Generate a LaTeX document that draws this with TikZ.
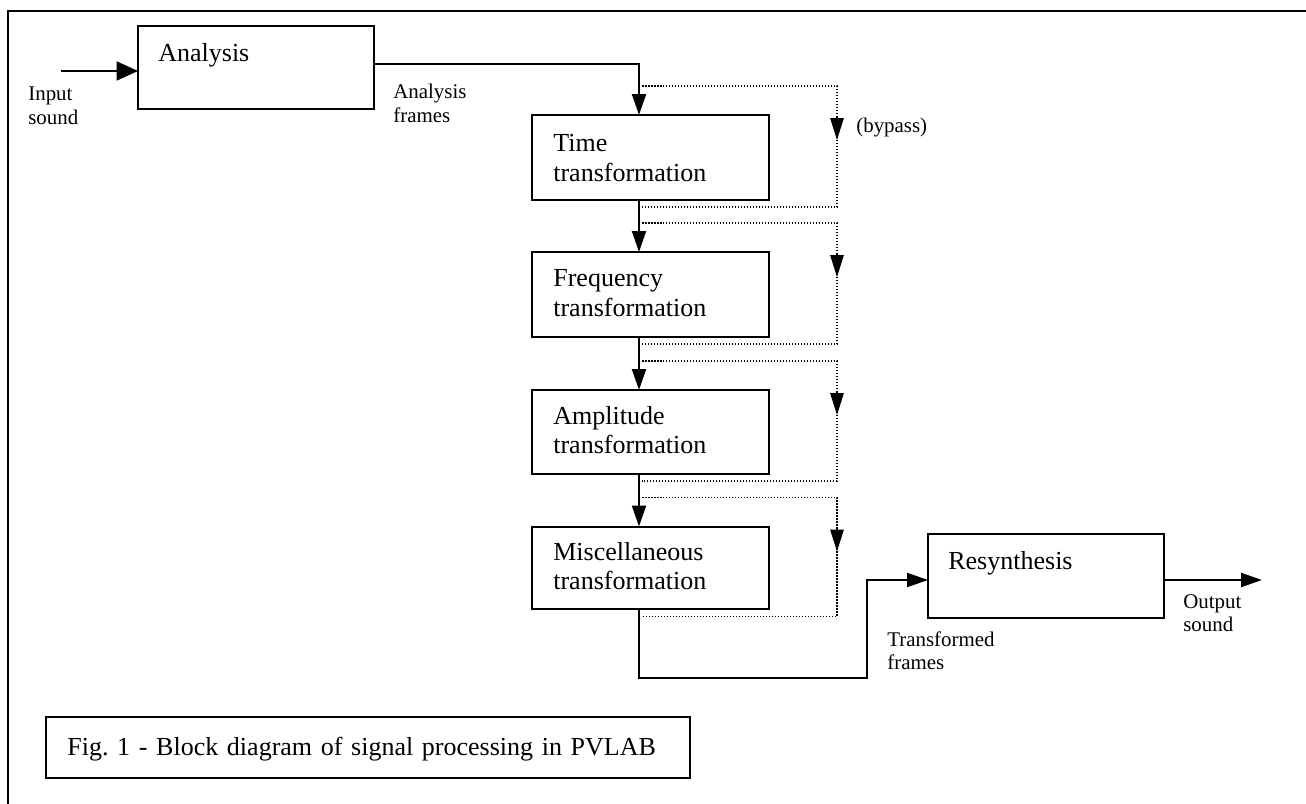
\documentclass[tikz,border=0pt]{standalone}
\usepackage{fontspec}
\setmainfont{Liberation Serif}
\usetikzlibrary{arrows.meta,calc}
\begin{document}
\frenchspacing
\begin{tikzpicture}[x=0.02cm,y=-0.02cm,
  box/.style={draw,line width=0.04cm,minimum width=4.74cm,minimum height=1.7cm,inner sep=0pt,outer sep=0pt},
  boxtext/.style={anchor=base west,inner sep=0pt,align=left,font=\fontsize{14.8}{16.8}\selectfont,text width=4.2cm},
  lbl/.style={anchor=base west,inner sep=0pt,align=left,font=\fontsize{11.9}{13.6}\selectfont,text width=3cm},
  conn/.style={line width=0.04cm},
  arr/.style={conn,-{Triangle[length=0.42cm,width=0.28cm]}},
  bigarr/.style={conn,-{Triangle[length=0.43cm,width=0.38cm]}},
  byp/.style={line width=0.03cm,dash pattern=on 0.03cm off 0.03cm},
  byptip/.style={line width=0.03cm,-{Triangle[length=0.44cm,width=0.27cm]}},
  frame/.style={line width=0.045cm}
]
\useasboundingbox (0,0) rectangle (1306,804);
% outer frame (top and left edges only)
\coordinate (fb) at (8,804);
\coordinate (fc) at (8,11);
\coordinate (fr) at (1306,11);
\draw[frame] (fb) -- (fc) -- (fr);

% boxes
\node[box,minimum width=4.72cm,minimum height=1.66cm] (ana) at (256,67.5) {};
\node[box] (time) at (650.5,157.5) {};
\node[box] (freq) at (650.5,294.5) {};
\node[box,minimum height=1.68cm] (amp) at (650.5,432) {};
\node[box,minimum height=1.66cm] (misc) at (650.5,568) {};
\node[box,minimum width=4.72cm,minimum height=1.68cm] (res) at (1046,576) {};
\node[box,minimum width=12.88cm,minimum height=1.22cm] (cap) at (368,747.5) {};

% box texts
\node[boxtext] (anat) at (158,62) {Analysis};
\node[boxtext] (timet) at (553,152) {Time\\transformation};
\node[boxtext] (freqt) at (553,287) {Frequency\\transformation};
\node[boxtext] (ampt) at (553,424) {Amplitude\\transformation};
\node[boxtext] (misct) at (553,560) {Miscellaneous\\transformation};
\node[boxtext] (rest) at (948,569) {Resynthesis};
\node[boxtext,text width=12cm] (capt) at (67,755) {Fig. 1 - Block diagram of signal processing in PVLAB};

% labels
\node[lbl] (inl) at (28,101) {Input\\sound};
\node[lbl] (afl) at (393,99) {Analysis\\frames};
\node[lbl] (byl) at (856,133) {(bypass)};
\node[lbl] (tfl) at (887,646) {Transformed\\frames};
\node[lbl] (osl) at (1183,608) {Output\\sound};

% helper coordinates
\coordinate (sp) at (639,0);
\coordinate (bx) at (837,0);
\coordinate (in) at (61,71);
\coordinate (out) at (1262,580);
\coordinate (tb) at (867,678);

% main connectors
\draw[bigarr] (in) -- (in -| ana.west);
\draw[arr] ([yshift=0.07cm]ana.east) -| (time.north -| sp);
\draw[arr] (time.south -| sp) -- (freq.north -| sp);
\draw[arr] (freq.south -| sp) -- (amp.north -| sp);
\draw[arr] (amp.south -| sp) -- (misc.north -| sp);
\draw[arr] (misc.south -| sp) |- (tb) |- (out -| res.west);
\draw[arr] (out -| res.east) -- (out);

% bypass loops
\foreach \b in {time,freq,amp,misc}{
  \draw[byp] ($(\b.north -| sp)+(3,-29)$) -| ($(\b.south -| bx)+(0,7)$) -- ($(\b.south -| sp)+(3,7)$);
  \draw[byptip] ($(\b.north -| bx)+(0,1)$) -- ($(\b.north -| bx)+(0,25)$);
}
\end{tikzpicture}
\end{document}
